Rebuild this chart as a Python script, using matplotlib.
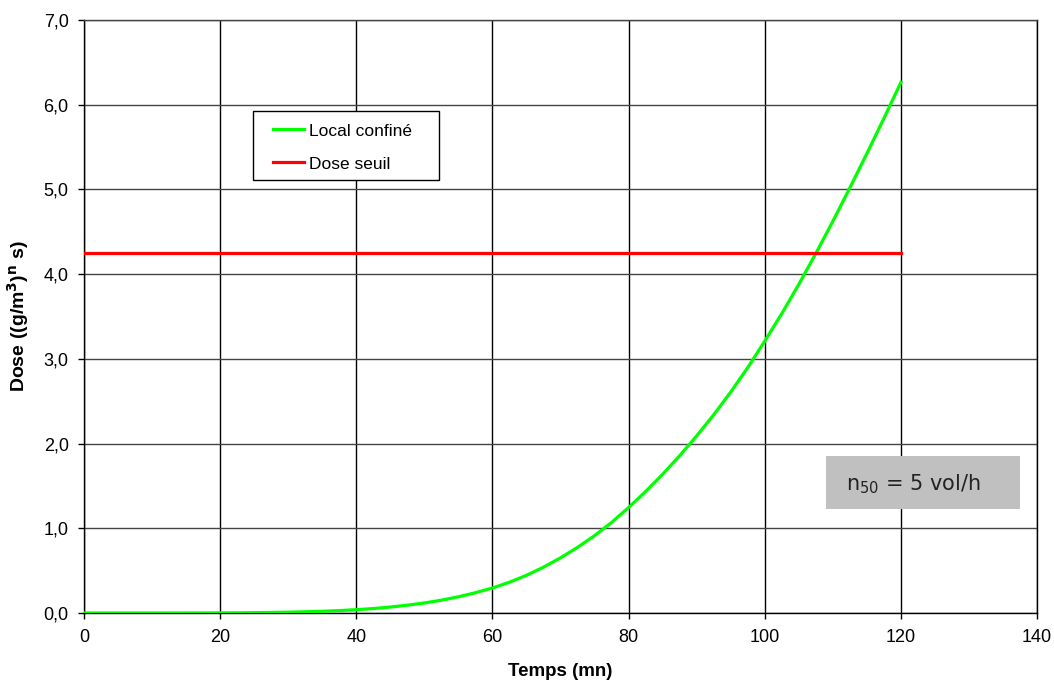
import matplotlib
matplotlib.use("Agg")
import matplotlib.pyplot as plt
from matplotlib.ticker import FuncFormatter, MultipleLocator
from matplotlib.patches import Rectangle

# Data
temps = [0, 2.5, 5, 7.5, 10, 12.5, 15, 17.5, 20, 22.5, 25, 27.5, 30, 32.5,
         35, 37.5, 40, 42.5, 45, 47.5, 50, 52.5, 55, 57.5, 60, 62.5, 65,
         67.5, 70, 72.5, 75, 77.5, 80, 82.5, 85, 87.5, 90, 92.5, 95, 97.5,
         100, 102.5, 105, 107.5, 110, 112.5, 115, 117.5, 120]
dose_local = [0.0, 0.0, 0.0, 0.0, 0.0, 0.0001, 0.0003, 0.0006, 0.0012, 0.002,
              0.0037, 0.006, 0.009, 0.014, 0.020, 0.028, 0.039, 0.052, 0.070,
              0.092, 0.118, 0.151, 0.191, 0.239, 0.295, 0.363, 0.445, 0.541,
              0.651, 0.775, 0.913, 1.069, 1.245, 1.434, 1.638, 1.857, 2.091,
              2.340, 2.609, 2.898, 3.210, 3.535, 3.880, 4.245, 4.625, 5.020,
              5.425, 5.840, 6.265]
seuil_x = [0, 120]
seuil_y = [4.25, 4.25]

plt.rcParams['font.family'] = ['Liberation Sans', 'DejaVu Sans']

fig = plt.figure(figsize=(10.54, 6.81), dpi=100)
ax = fig.add_axes([0.0797, 0.0999, 0.9043, 0.8707])

ax.plot(temps, dose_local, color='#00FF00', lw=2.3, label='Local confiné', zorder=3)
ax.plot(seuil_x, seuil_y, color='#FF0000', lw=2.3, label='Dose seuil', zorder=3)

ax.set_xlim(0, 140)
ax.set_ylim(0, 7)
ax.xaxis.set_major_locator(MultipleLocator(20))
ax.yaxis.set_major_locator(MultipleLocator(1))
ax.yaxis.set_major_formatter(FuncFormatter(lambda v, p: f"{v:.1f}".replace('.', ',')))

ax.grid(True, axis='x', color='black', lw=1.0)
ax.grid(True, axis='y', color='#444444', lw=1.0)
ax.set_axisbelow(True)
for s in ax.spines.values():
    s.set_color('black')
    s.set_linewidth(1.0)
ax.spines['top'].set_color('#444444')
ax.tick_params(axis='both', direction='out', length=4.5, width=1, labelsize=13, colors='black')
ax.tick_params(axis='x', pad=7)
ax.tick_params(axis='y', pad=6.5)

ax.set_xlabel('Temps (mn)', fontsize=13.5, fontweight='bold', labelpad=12)
ax.set_ylabel('Dose ((g/m$^\\mathbf{3}$)$^\\mathbf{n}$ s)', fontsize=14,
              fontweight='bold', labelpad=9)

# Legend frame
ax.add_patch(Rectangle((0.177, 0.7302), 0.1955, 0.1169, transform=ax.transAxes,
                       facecolor='white', edgecolor='black', lw=1.0, zorder=4))
leg = ax.legend(loc='upper left', bbox_to_anchor=(0.1983, 0.8257), fontsize=12.5,
                frameon=False, handlelength=1.8, handletextpad=0.3,
                borderpad=0, labelspacing=1.03, borderaxespad=0)
leg.set_zorder(5)

# Annotation box
ax.add_patch(Rectangle((109.0, 1.228), 28.5, 0.626, transform=ax.transData,
                       facecolor='#C0C0C0', edgecolor='none', zorder=4))
ax.text(111.9, 1.452, 'n$_{50}$ = 5 vol/h', fontsize=15, color='#222222',
        family='DejaVu Sans', va='baseline', ha='left', zorder=5)

fig.savefig('out.png', dpi=100)
